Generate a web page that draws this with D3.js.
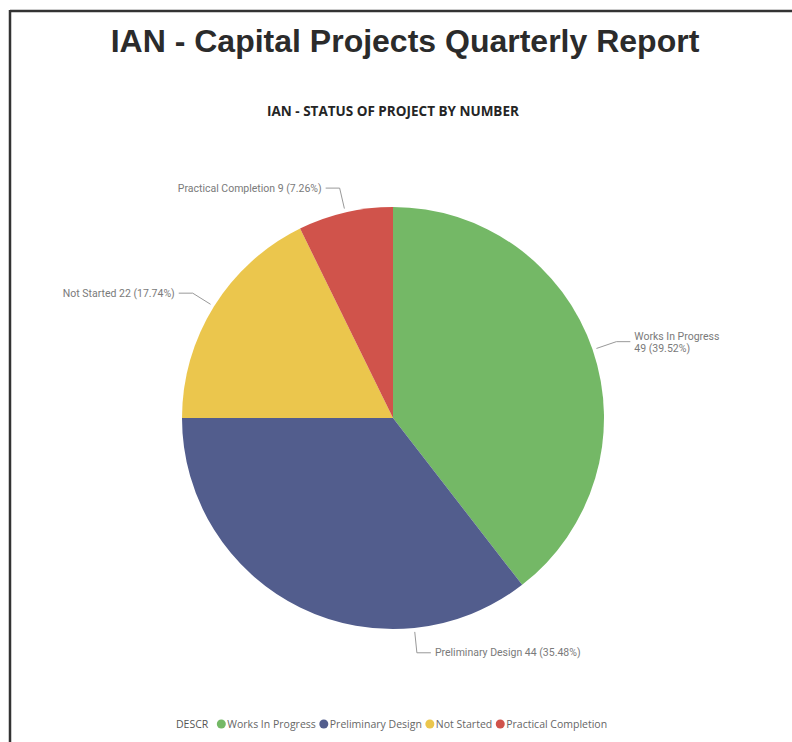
<!DOCTYPE html>
<html>
<head>
<meta charset="utf-8">
<script src="https://cdn.jsdelivr.net/npm/d3@7"></script>
<style>
  body { margin: 0; background: #fff; }
  svg { display: block; }
</style>
</head>
<body>
<div id="chart"></div>
<script>
// chart data
const categories = ['Works In Progress', 'Preliminary Design', 'Not Started', 'Practical Completion'];
const counts = [49, 44, 22, 9];
const colors = ['#74b866', '#525d8d', '#ebc64d', '#d0534b'];
// where each label sits and where along its slice the leader starts (0..1)
const labelSides = ['right', 'below', 'left', 'above'];
const leaderAt = [0.5, 0.25, 0.5, 0.5];

const width = 792, height = 742;
const cx = 393, cy = 418, radius = 211;

const svg = d3.select('#chart').append('svg')
    .attr('width', width)
    .attr('height', height);

// frame lines (top and left)
svg.append('line').attr('x1', 10).attr('y1', 11).attr('x2', width).attr('y2', 11)
    .attr('stroke', '#333').attr('stroke-width', 2.5);
svg.append('line').attr('x1', 10).attr('y1', 10).attr('x2', 10).attr('y2', height)
    .attr('stroke', '#333').attr('stroke-width', 2.5);

svg.append('text')
    .attr('x', 405).attr('y', 52)
    .attr('text-anchor', 'middle')
    .style('font-family', '"Liberation Sans", Arial, sans-serif')
    .style('font-weight', 'bold')
    .style('font-size', '32px')
    .style('fill', '#2b2b2b')
    .text('IAN - Capital Projects Quarterly Report');

svg.append('text')
    .attr('x', 393).attr('y', 116)
    .attr('text-anchor', 'middle')
    .style('font-family', '"Open Sans", "Noto Sans", sans-serif')
    .style('font-weight', 'bold')
    .style('font-size', '13.5px')
    .style('fill', '#252525')
    .text('IAN - STATUS OF PROJECT BY NUMBER');

const data = categories.map((c, i) => ({ name: c, value: counts[i], color: colors[i], side: labelSides[i], at: leaderAt[i] }));
const total = d3.sum(counts);

const pie = d3.pie().value(d => d.value).sort(null);
const arc = d3.arc().innerRadius(0).outerRadius(radius);
const arcs = pie(data);

const g = svg.append('g').attr('transform', `translate(${cx},${cy})`);

g.selectAll('path')
    .data(arcs)
    .enter()
    .append('path')
    .attr('d', arc)
    .style('fill', d => d.data.color);

// labels with leader lines
const polar = (a, r) => [r * Math.sin(a), -r * Math.cos(a)];
const fmt = d3.format('.2f');

arcs.forEach(d => {
    const a = d.startAngle + (d.endAngle - d.startAngle) * d.data.at;
    const p0 = polar(a, radius + 4);
    const p1 = polar(a, radius + 25);
    const dir = (d.data.side === 'left' || (d.data.side === 'above' && p1[0] < 0)) ? -1 : 1;
    const p2 = [p1[0] + dir * 14, p1[1]];

    g.append('polyline')
        .attr('points', [p0, p1, p2].map(p => p.join(',')).join(' '))
        .attr('fill', 'none')
        .attr('stroke', '#999')
        .attr('stroke-width', 1);

    const pct = fmt(d.data.value / total * 100);
    const t = g.append('text')
        .attr('x', p2[0] + dir * 4)
        .attr('y', p2[1])
        .attr('text-anchor', dir < 0 ? 'end' : 'start')
        .style('font-family', 'Roboto, "DejaVu Sans", sans-serif')
        .style('font-size', '10.5px')
        .style('fill', '#7a7a7a');

    if (d.data.side === 'right') {
        t.append('tspan').attr('x', p2[0] + 4).attr('dy', '-0.2em').text(d.data.name);
        t.append('tspan').attr('x', p2[0] + 4).attr('dy', '1.15em').text(`${d.data.value} (${pct}%)`);
    } else {
        t.attr('dy', '0.35em').text(`${d.data.name} ${d.data.value} (${pct}%)`);
    }
});

// legend
const legend = svg.append('g').attr('transform', 'translate(176,724)');
const legendFont = '"Open Sans", "Noto Sans", sans-serif';
const title = legend.append('text')
    .attr('x', 0).attr('dy', '0.35em')
    .style('font-family', legendFont)
    .style('font-size', '10.5px')
    .style('fill', '#555')
    .text('DESCR');

let lx = title.node().getComputedTextLength() + 8;
data.forEach(d => {
    legend.append('circle')
        .attr('cx', lx + 5).attr('cy', 0).attr('r', 4.5)
        .style('fill', d.color);
    const t = legend.append('text')
        .attr('x', lx + 11).attr('dy', '0.35em')
        .style('font-family', legendFont)
        .style('font-size', '10.5px')
        .style('fill', '#666')
        .text(d.name);
    lx += 11 + t.node().getComputedTextLength() + 3;
});
</script>
</body>
</html>
